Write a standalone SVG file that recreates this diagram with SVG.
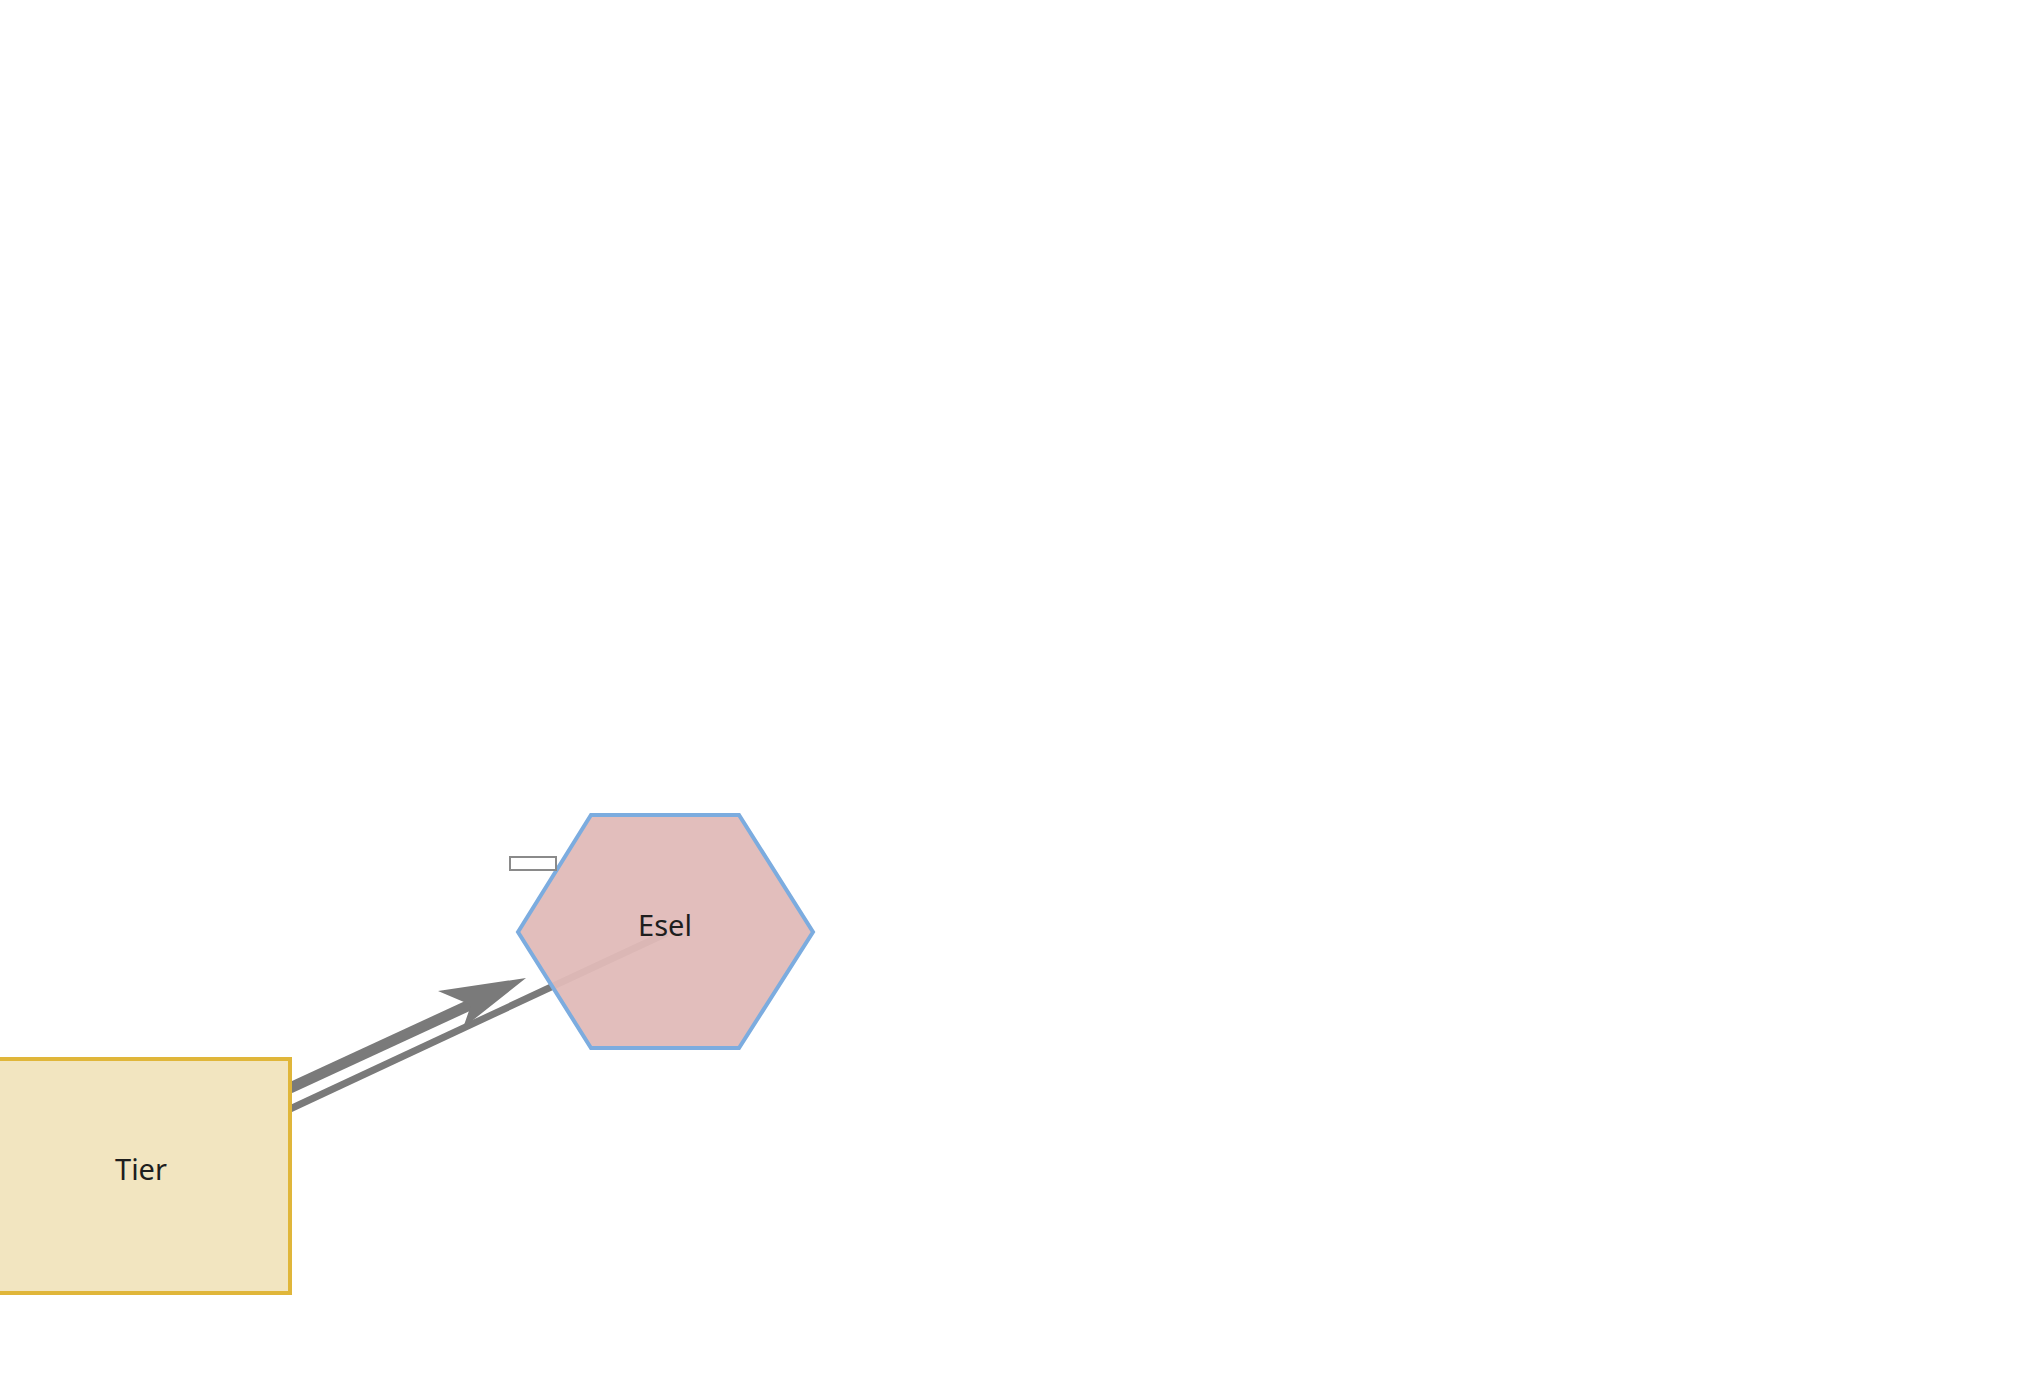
<svg xmlns="http://www.w3.org/2000/svg" width="2020" height="1400" viewBox="0 0 2020 1400">
<style>
.lbl{font-family:"Noto Sans","Open Sans","Liberation Sans",sans-serif;font-size:29px;fill:#1e1e1e;text-anchor:middle}
.conn{stroke:#7a7a7a;fill:none;stroke-linecap:butt}
</style>
<rect width="2020" height="1400" fill="#ffffff"/>
<g id="connectors">
<line class="conn" x1="290" y1="1109" x2="667" y2="933" stroke-width="7"/>
<line class="conn" x1="290" y1="1088" x2="474" y2="1003" stroke-width="11"/>
<polygon points="526,978 438,991 471,1005 463,1028" fill="#7a7a7a"/>
</g>
<g id="node-esel">
<polygon points="518,932 591,815 739,815 813,932 739,1048 591,1048" fill="#e0bbb8" fill-opacity="0.95" stroke="#7cacdf" stroke-width="4"/>
<text class="lbl" x="665" y="936">Esel</text>
</g>
<g id="node-small">
<rect x="510" y="857" width="46" height="13" fill="#ffffff" stroke="#8a8a8a" stroke-width="2"/>
</g>
<g id="node-tier">
<rect x="-6" y="1059" width="296" height="234" fill="#f2e5c0" stroke="#e0b63a" stroke-width="4"/>
<text class="lbl" x="141" y="1180">Tier</text>
</g>
</svg>
